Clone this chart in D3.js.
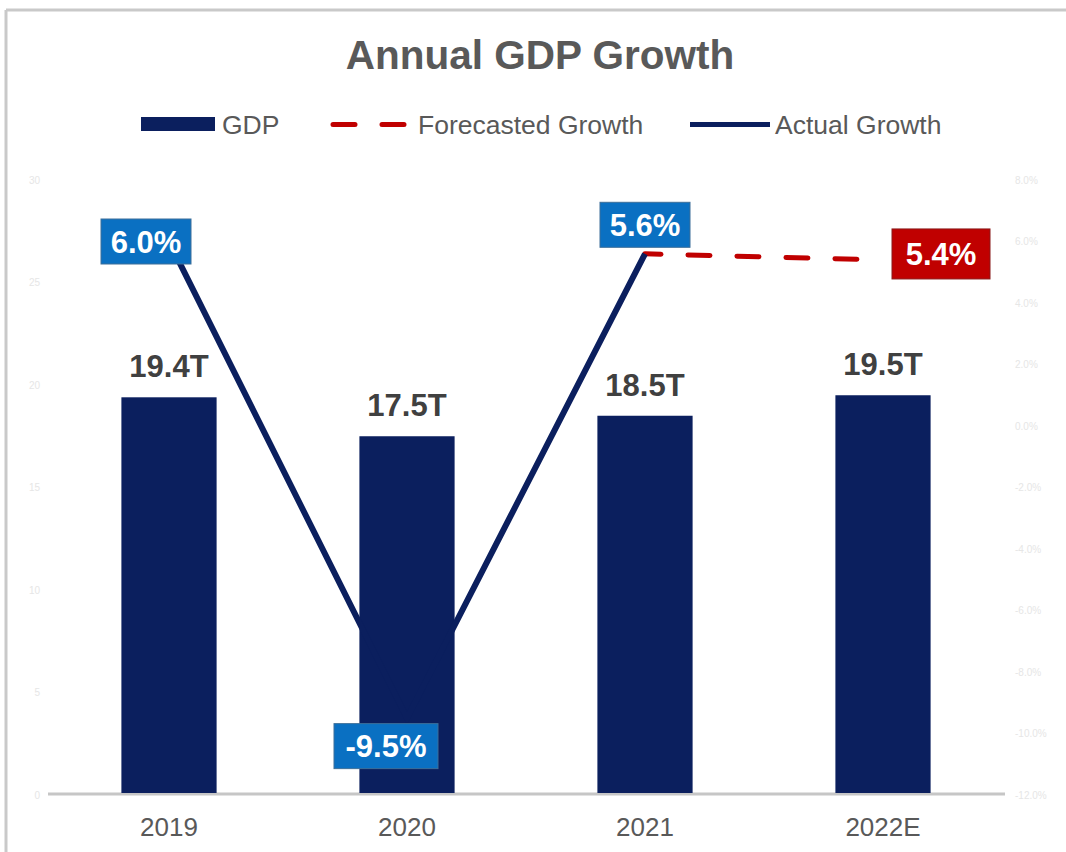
<!DOCTYPE html>
<html>
<head>
<meta charset="utf-8">
<script src="https://cdn.jsdelivr.net/npm/d3@7"></script>
<style>
  html, body { margin: 0; padding: 0; background: #fff; }
  svg { display: block; font-family: "Liberation Sans", Arial, sans-serif; }
</style>
</head>
<body>
<svg id="chart" width="1066" height="852"></svg>
<script>
// ---- data ----
const categories = ["2019", "2020", "2021", "2022E"];
const gdpValues = [19.4, 17.5, 18.5, 19.5];
const gdpLabels = ["19.4T", "17.5T", "18.5T", "19.5T"];
const actualGrowth = [6.0, -9.5, 5.6, null];
const forecastGrowth = [null, null, 5.6, 5.4];
const growthLabels = ["6.0%", "-9.5%", "5.6%", "5.4%"];
const leftTicks = [0, 5, 10, 15, 20, 25, 30];
const rightTicks = [8, 6, 4, 2, 0, -2, -4, -6, -8, -10, -12];

// ---- layout ----
const svg = d3.select("#chart");
const W = 1066, H = 852;
const plot = { left: 50, right: 1002, top: 180, bottom: 795 };

const navy = "#0b1f5e";
const blue = "#0a70c2";
const red = "#c00000";

// frame (top + left edges visible)
svg.append("line").attr("x1", 6).attr("x2", W).attr("y1", 10).attr("y2", 10)
  .attr("stroke", "#c9c9c9").attr("stroke-width", 3);
svg.append("line").attr("x1", 6).attr("x2", 6).attr("y1", 10).attr("y2", H)
  .attr("stroke", "#c9c9c9").attr("stroke-width", 3);

// title
svg.append("text").attr("x", 540).attr("y", 69).attr("text-anchor", "middle")
  .attr("font-size", 40.5).attr("font-weight", "bold").attr("fill", "#595959")
  .text("Annual GDP Growth");

// scales
const x = d3.scaleBand().domain(categories).range([plot.left, plot.right]).paddingInner(0.6).paddingOuter(0.3);
const yL = d3.scaleLinear().domain([0, 30]).range([plot.bottom, plot.top]);
const yR = d3.scaleLinear().domain([-12, 8]).range([plot.bottom, plot.top]);
const cx = c => x(c) + x.bandwidth() / 2;

// axes (faint labels)
const axL = d3.axisLeft(yL).tickValues(leftTicks).tickSize(0).tickPadding(0);
const gL = svg.append("g").attr("transform", `translate(40,0)`).call(axL);
gL.select(".domain").remove();
gL.selectAll("text").attr("fill", "#e6e6e6").attr("font-size", 10).attr("font-family", "Liberation Sans, Arial, sans-serif");

const axR = d3.axisRight(yR).tickValues(rightTicks).tickSize(0).tickPadding(0)
  .tickFormat(d => d.toFixed(1) + "%");
const gR = svg.append("g").attr("transform", `translate(1015,0)`).call(axR);
gR.select(".domain").remove();
gR.selectAll("text").attr("fill", "#e6e6e6").attr("font-size", 10).attr("font-family", "Liberation Sans, Arial, sans-serif");

// baseline
svg.append("line").attr("x1", 48).attr("x2", 1005).attr("y1", plot.bottom - 1).attr("y2", plot.bottom - 1)
  .attr("stroke", "#c6c6c6").attr("stroke-width", 3);

// category axis labels
const axB = d3.axisBottom(x).tickSize(0).tickPadding(0);
const gB = svg.append("g").attr("transform", `translate(0,${plot.bottom + 41})`).call(axB);
gB.select(".domain").remove();
gB.selectAll("text").attr("fill", "#595959").attr("font-size", 26)
  .attr("font-family", "Liberation Sans, Arial, sans-serif").attr("dy", 0);

// bars
svg.append("g").selectAll("rect").data(categories).join("rect")
  .attr("x", d => x(d)).attr("width", x.bandwidth())
  .attr("y", (d, i) => yL(gdpValues[i]))
  .attr("height", (d, i) => yL(0) - yL(gdpValues[i]) - 2)
  .attr("fill", navy);

// bar labels
svg.append("g").selectAll("text").data(categories).join("text")
  .attr("x", d => cx(d)).attr("y", (d, i) => yL(gdpValues[i]) - 20)
  .attr("text-anchor", "middle").attr("font-size", 31).attr("font-weight", "bold")
  .attr("fill", "#404040").text((d, i) => gdpLabels[i]);

// forecast line (dashed)
const fData = categories.map((c, i) => ({ c, v: forecastGrowth[i] })).filter(d => d.v !== null);
svg.append("path").datum(fData)
  .attr("d", d3.line().x(d => cx(d.c)).y(d => yR(d.v)))
  .attr("fill", "none").attr("stroke", red).attr("stroke-width", 5)
  .attr("stroke-linecap", "round").attr("stroke-dasharray", "22 27").attr("stroke-dashoffset", 6);

// actual line
const aData = categories.map((c, i) => ({ c, v: actualGrowth[i] })).filter(d => d.v !== null);
svg.append("path").datum(aData)
  .attr("d", d3.line().x(d => cx(d.c)).y(d => yR(d.v)))
  .attr("fill", "none").attr("stroke", navy).attr("stroke-width", 6)
  .attr("stroke-linejoin", "miter");

// growth labels (boxes)
const labelOffsets = [[-23, 0], [-21, 28], [0, -29], [58, -6]];
const labelColors = [blue, blue, blue, red];
const lblValues = categories.map((c, i) => ({ c, i, v: actualGrowth[i] !== null ? actualGrowth[i] : forecastGrowth[i] }));
const lg = svg.append("g").selectAll("g").data(lblValues).join("g")
  .attr("transform", d => `translate(${cx(d.c) + labelOffsets[d.i][0]},${yR(d.v) + labelOffsets[d.i][1]})`);
lg.append("rect")
  .attr("x", d => d.i === 3 ? -49 : (d.i === 1 ? -52 : -45)).attr("y", d => d.i === 3 ? -25 : -22.5)
  .attr("width", d => d.i === 3 ? 98 : (d.i === 1 ? 104 : 90)).attr("height", d => d.i === 3 ? 50 : 45)
  .attr("fill", d => labelColors[d.i])
  .attr("stroke", d => d.i === 3 ? "#8a1a1a" : "#3d6f99").attr("stroke-width", 1);
lg.append("text").attr("text-anchor", "middle").attr("y", 11)
  .attr("font-size", 31).attr("font-weight", "bold").attr("fill", "#ffffff")
  .text(d => growthLabels[d.i]);

// legend
const leg = svg.append("g");
leg.append("rect").attr("x", 141).attr("y", 117).attr("width", 74).attr("height", 14).attr("fill", navy);
leg.append("text").attr("x", 222).attr("y", 134).attr("font-size", 26.5).attr("fill", "#595959").text("GDP");
leg.append("line").attr("x1", 333).attr("x2", 409).attr("y1", 124.5).attr("y2", 124.5)
  .attr("stroke", red).attr("stroke-width", 5).attr("stroke-linecap", "round").attr("stroke-dasharray", "22 27");
leg.append("text").attr("x", 418).attr("y", 134).attr("font-size", 26.5).attr("fill", "#595959").text("Forecasted Growth");
leg.append("line").attr("x1", 690).attr("x2", 770).attr("y1", 124.5).attr("y2", 124.5)
  .attr("stroke", navy).attr("stroke-width", 5);
leg.append("text").attr("x", 775).attr("y", 134).attr("font-size", 26.5).attr("fill", "#595959").text("Actual Growth");
</script>
</body>
</html>
